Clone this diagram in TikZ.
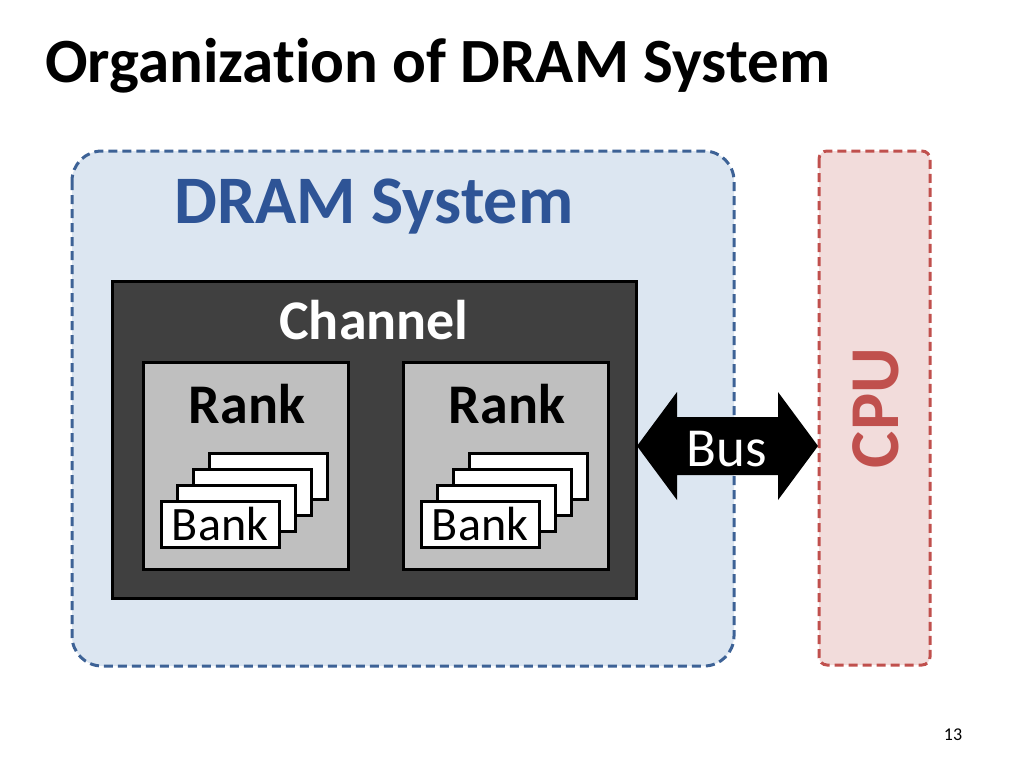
\documentclass[tikz,border=0pt]{standalone}
\usepackage{fontspec}
\setmainfont[Ligatures=CommonOff]{Carlito}
\begin{document}
\begin{tikzpicture}[x=1pt,y=-1pt,
  bank/.style={draw=black,line width=3pt,fill=white,minimum width=118pt,minimum height=46pt,inner sep=0pt,font=\fontsize{48}{50}\selectfont},
  rank/.style={draw=black,line width=3pt,fill=black!25},
  dashedbox/.style={line width=3pt,dash pattern=on 9pt off 5pt}]
\useasboundingbox (0,0) rectangle (1024,768);
\node[anchor=base west,font=\bfseries\fontsize{63}{66}\selectfont,inner sep=0pt] (title) at (45,82) {Organization of DRAM System};
\draw[dashedbox,draw={rgb,255:red,61;green,98;blue,150},fill={rgb,255:red,220;green,230;blue,241},rounded corners=30pt] (72,151) rectangle (734,666);
\node[font=\bfseries\fontsize{68}{70}\selectfont,text={rgb,255:red,46;green,84;blue,150},inner sep=0pt] (dram) at (374,207) {DRAM System};
\draw[dashedbox,draw={rgb,255:red,192;green,80;blue,77},fill={rgb,255:red,242;green,220;blue,219},rounded corners=8pt] (819,151) rectangle (930,665);
\node[font=\bfseries\fontsize{70}{72}\selectfont,text={rgb,255:red,192;green,80;blue,77},rotate=90,inner sep=0pt] (cpu) at (876,408) {CPU};
\draw[draw=black,line width=3pt,fill=black!75] (112,281) rectangle (636,598);
\node[font=\bfseries\fontsize{56}{58}\selectfont,text=white,inner sep=0pt] (chan) at (374,320) {Channel};
\foreach \dx/\nm in {0/a,260/b}{
  \draw[rank] (143+\dx,362) rectangle (348+\dx,569);
  \node[font=\bfseries\fontsize{56}{58}\selectfont,inner sep=0pt] (rank\nm) at (247+\dx,404) {Rank};
  \foreach \k in {3,2,1}{
    \node[bank] (b\nm\k) at (220+\dx+16*\k,524-16*\k) {};
  }
  \node[bank] (b\nm0) at (220+\dx,524) {Bank};
}
\fill[black] (637,446) -- (677,392) -- (677,417) -- (778,417) -- (778,392) -- (818,446) -- (778,500) -- (778,475) -- (677,475) -- (677,500) -- cycle;
\node[font=\fontsize{55}{57}\selectfont,text=white,inner sep=0pt] (bus) at (727,449) {Bus};
\node[font=\fontsize{18}{20}\selectfont,inner sep=0pt] (pg) at (953,735) {13};
\end{tikzpicture}
\end{document}
